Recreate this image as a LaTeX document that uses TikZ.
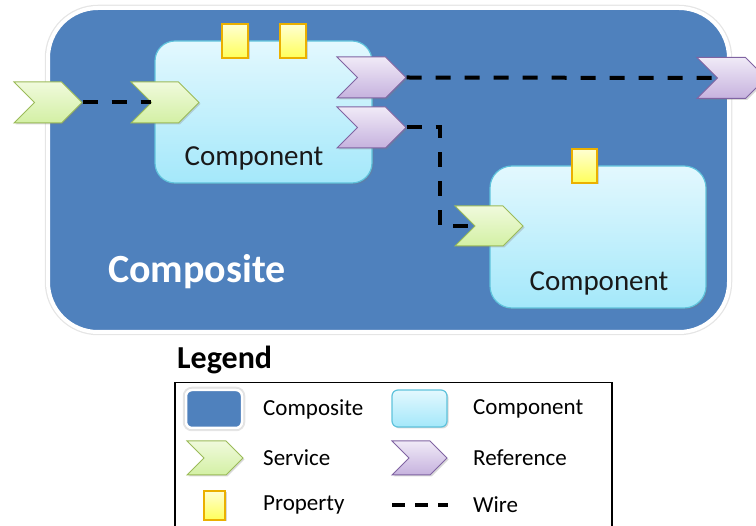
\documentclass[tikz,border=0pt]{standalone}
\usepackage{fontspec}
\setmainfont{Carlito}
\usetikzlibrary{shapes.symbols,shadows}
\definecolor{compositeblue}{HTML}{4F81BD}
\definecolor{comptop}{HTML}{E3F8FE}
\definecolor{compbot}{HTML}{A4E8FA}
\definecolor{compline}{HTML}{5FC3DC}
\definecolor{svctop}{HTML}{F0FADC}
\definecolor{svcbot}{HTML}{D3F0A4}
\definecolor{svcline}{HTML}{9BBB59}
\definecolor{reftop}{HTML}{F0EAF7}
\definecolor{refbot}{HTML}{C6B2DE}
\definecolor{refline}{HTML}{8064A2}
\definecolor{proptop}{HTML}{FFFFD2}
\definecolor{propbot}{HTML}{FFFF5A}
\definecolor{propline}{HTML}{EBB000}
\tikzset{
  softshadow/.style={drop shadow={opacity=0.3,shadow xshift=1.5pt,shadow yshift=-1.5pt}},
  compositebox/.style={rounded corners=#1,fill=compositeblue,draw=white,line width=4pt,
    preaction={draw=black!10,line width=6.5pt},inner sep=0pt},
  compbox/.style={rounded corners=#1,draw=compline,line width=1.2pt,top color=comptop,
    bottom color=compbot,inner sep=0pt,softshadow},
  chevron/.style={shape=signal,signal from=west,signal to=east,signal pointer angle=90,
    inner sep=0pt,line width=1pt,softshadow},
  service/.style={chevron,draw=svcline,top color=svctop,bottom color=svcbot},
  reference/.style={chevron,draw=refline,top color=reftop,bottom color=refbot},
  propbox/.style={draw=propline,line width=1.2pt,top color=proptop,bottom color=propbot,
    inner sep=0pt,minimum width=#1,softshadow},
  wire/.style={draw=black,line width=4pt,dash pattern=on 15pt off 14pt},
  legendtext/.style={anchor=west,inner sep=0pt,font=\fontsize{23}{27}\selectfont},
}
\begin{document}
\begin{tikzpicture}[x=1pt,y=-1pt]
\useasboundingbox (0,0) rectangle (756,526);

\node[compositebox=50pt,minimum width=681,minimum height=324] (composite) at (388.5,170) {};
\node[compbox=20pt,minimum width=217,minimum height=142] (compA) at (263.5,112) {};
\node[compbox=22pt,minimum width=216,minimum height=142] (compB) at (598,237) {};

\node[propbox=26,minimum height=34] (propA) at (235,41) {};
\node[propbox=26,minimum height=34] (propB) at (293,41) {};
\node[propbox=25,minimum height=34] (propC) at (584.5,166) {};

\node[service,minimum width=68,minimum height=41] (svcA) at (48,102.5) {};
\node[service,minimum width=68,minimum height=41] (svcB) at (165,102.5) {};
\node[service,minimum width=68,minimum height=40] (svcC) at (489,226) {};
\node[reference,minimum width=69,minimum height=41] (refA) at (371.5,77.5) {};
\node[reference,minimum width=69,minimum height=41] (refB) at (371.5,127.5) {};
\node[reference,minimum width=69,minimum height=41] (refC) at (731.5,78) {};

\node[font=\fontsize{29}{34}\selectfont,text=black!90] (compAlabel) at (254,158) {Component};
\node[font=\fontsize{29}{34}\selectfont,text=black!90] (compBlabel) at (599,283) {Component};
\node[font=\fontsize{40}{46}\selectfont\bfseries,text=white] (compositelabel) at (197,272) {Composite};

\coordinate (bend) at (440,226);
\draw[wire] (svcA.east) -- ([xshift=-14pt]svcB.center);
\draw[wire] (refA.east) -- ([xshift=-14pt]refC.center);
\draw[wire] (refB.east) -| (bend) -- ([xshift=-14pt]svcC.center);

% legend
\node[anchor=west,inner sep=0pt,font=\fontsize{32}{36}\selectfont\bfseries] (legendtitle) at (177,360) {Legend};
\node[draw=black,line width=1.5pt,anchor=north west,minimum width=437,minimum height=170,inner sep=0pt] (legendbox) at (174,382) {};

\node[compositebox=6pt,line width=2.5pt,preaction={draw=black!12,line width=4pt},minimum width=56,minimum height=38] (keycomposite) at (214,409) {};
\node[compbox=6pt,minimum width=55,minimum height=37] (keycomponent) at (419.5,408.5) {};
\node[service,minimum width=56,minimum height=34] (keyservice) at (215,458) {};
\node[reference,minimum width=55,minimum height=34] (keyreference) at (419.5,458) {};
\node[propbox=21,minimum height=29] (keyproperty) at (214.5,505.5) {};
\coordinate (keywireA) at (392,505);
\coordinate (keywireB) at (448,505);
\draw[draw=black,line width=3.5pt,dash pattern=on 13pt off 10pt] (keywireA) -- (keywireB);

\node[legendtext] (txtcomposite) at (263,409) {Composite};
\node[legendtext] (txtcomponent) at (473,409) {Component};
\node[legendtext] (txtservice) at (263,458) {Service};
\node[legendtext] (txtreference) at (473,458) {Reference};
\node[legendtext] (txtproperty) at (263,505) {Property};
\node[legendtext] (txtwire) at (473,505) {Wire};
\end{tikzpicture}
\end{document}
